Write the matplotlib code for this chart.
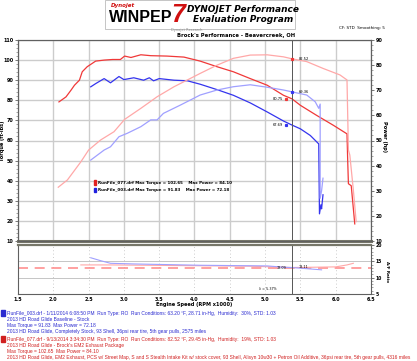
"""Dyno sheet: Road Glide baseline vs EM2 exhaust package (torque, power, A/F)."""

import matplotlib
matplotlib.use("Agg")
import matplotlib.pyplot as plt
from matplotlib.patches import Rectangle

# ---- data (rpm in x1000) ----
rpm_tq_077 = [2.08, 2.18, 2.25, 2.30, 2.37, 2.41, 2.48, 2.60, 2.72, 2.84, 2.95, 3.01,
              3.10, 3.24, 3.38, 3.61, 3.85, 4.08, 4.32, 4.55, 4.79, 5.03, 5.26, 5.38,
              5.50, 5.73, 5.97, 6.16, 6.17, 6.18, 6.22, 6.27]
tq_077 = [79.2, 81.7, 85.0, 87.5, 90.0, 94.2, 96.7, 99.5, 100.0, 100.3, 100.3, 102.0,
          101.3, 102.65, 102.2, 102.0, 101.5, 99.5, 96.7, 94.2, 90.8, 87.5, 82.5, 80.75,
          77.5, 72.5, 67.5, 63.3, 50.0, 38.5, 37.5, 18.5]

rpm_hp_077 = [2.07, 2.20, 2.39, 2.50, 2.67, 2.86, 3.01, 3.24, 3.47, 3.71, 3.99, 4.08,
              4.32, 4.55, 4.79, 5.03, 5.26, 5.38, 5.59, 5.82, 6.06, 6.16, 6.18, 6.20,
              6.25, 6.29]
hp_077 = [31.4, 34.3, 41.5, 46.2, 50.2, 53.5, 58.4, 62.8, 67.4, 71.4, 75.4, 76.7,
          80.0, 82.7, 84.0, 84.1, 83.3, 82.52, 81.4, 78.7, 76.1, 74.1, 46.2, 44.2,
          30.3, 17.7]

rpm_tq_003 = [2.53, 2.60, 2.72, 2.81, 2.93, 3.00, 3.14, 3.28, 3.36, 3.42, 3.50, 3.71,
              3.90, 4.08, 4.32, 4.55, 4.79, 5.03, 5.26, 5.38, 5.50, 5.64, 5.76, 5.77,
              5.79, 5.80, 5.82]
tq_003 = [86.7, 88.3, 90.8, 88.7, 91.83, 90.3, 91.2, 90.0, 91.2, 89.7, 90.8, 90.0,
          89.7, 88.0, 85.3, 82.5, 78.7, 74.2, 69.7, 67.69, 65.8, 62.5, 58.3, 23.5,
          28.0, 26.0, 33.0]

rpm_hp_003 = [2.53, 2.72, 2.81, 2.93, 3.05, 3.24, 3.38, 3.47, 3.56, 3.80, 3.99, 4.08,
              4.32, 4.55, 4.79, 5.03, 5.26, 5.38, 5.59, 5.71, 5.76, 5.78, 5.78, 5.80,
              5.82]
hp_003 = [42.2, 46.2, 47.5, 51.5, 52.9, 55.5, 58.2, 58.2, 60.8, 64.1, 66.8, 68.1,
          70.1, 71.4, 72.18, 71.2, 70.1, 69.36, 68.1, 65.4, 62.8, 64.5, 27.0, 30.0,
          35.0]

rpm_af_003 = [2.53, 2.67, 2.81, 3.14, 3.62, 4.08, 4.55, 5.03, 5.26, 5.38, 5.50, 5.80]
af_003 = [16.1, 15.2, 14.4, 14.2, 14.0, 13.8, 13.7, 13.6, 13.2, 13.09, 12.9, 12.4]

rpm_af_077 = [2.39, 2.80, 3.30, 3.80, 4.30, 4.80, 5.10, 5.38, 5.70, 6.00, 6.16, 6.25]
af_077 = [13.9, 13.9, 13.8, 13.7, 13.6, 13.5, 13.3, 13.11, 13.2, 13.3, 13.9, 14.4]

af_target = 13.1
cursor_rpm = 5.38

legend_lines = [
    ("RunFile_077.drf Max Torque = 102.65    Max Power = 84.10", "#e02020"),
    ("RunFile_003.drf Max Torque = 91.83    Max Power = 72.18", "#2020e0"),
]

run_info = [
    ("#2a2ad0", [
        "RunFile_003.drf - 1/11/2014 6:08:50 PM  Run Type: RO  Run Conditions: 63.20 \u00b0F, 28.71 in-Hg,  Humidity:  30%, STD: 1.03",
        "2013 HD Road Glide Baseline - Stock",
        "Max Torque = 91.83  Max Power = 72.18",
        "2013 HD Road Glide, Completely Stock, 93 Shell, 36psi rear tire, 5th gear pulls, 2575 miles",
    ]),
    ("#d02020", [
        "RunFile_077.drf - 9/13/2014 3:34:30 PM  Run Type: RO  Run Conditions: 82.52 \u00b0F, 29.45 in-Hg,  Humidity:  19%, STD: 1.03",
        "2013 HD Road Glide - Brock's EM2 Exhaust Package",
        "Max Torque = 102.65  Max Power = 84.10",
        "2013 HD Road Glide, EM2 Exhaust, PCS w/ Street Map, S and S Stealth Intake Kit w/ stock cover, 93 Shell, Alisyn 10w30 + Petron Oil Additive, 36psi rear tire, 5th gear pulls, 4316 miles",
    ]),
]

RED, PINK = "#f03838", "#ffa8a8"
BLUE, LBLUE = "#3434ee", "#a0a0ff"
GRID = "#cccccc"
SPINE = "#606060"

plt.rcParams["font.family"] = "DejaVu Sans"
plt.rcParams["font.size"] = 3.5

W, H = 417, 361
fig = plt.figure(figsize=(W / 100, H / 100), dpi=100)


def fx(px):
    return px / W


def fy(py):
    return 1 - py / H


# ---- header ----
fig.patches.append(Rectangle((fx(105), fy(29)), fx(190), 29 / H, transform=fig.transFigure,
                             facecolor="white", edgecolor="#bbbbbb", lw=0.6))
fig.text(fx(111), fy(6), "Dynojet", color="#d01010", fontsize=4, fontweight="bold",
         style="italic", va="center")
fig.text(fx(109), fy(18), "WINPEP", color="black", fontsize=11.5, fontweight="heavy",
         va="center", family="Liberation Sans")
fig.text(fx(171), fy(15.5), "7", color="#d01010", fontsize=18, fontweight="heavy",
         style="italic", va="center", family="Liberation Sans")
fig.text(fx(243), fy(10), "DYNOJET Performance", fontsize=6.5, fontweight="bold",
         style="italic", ha="center", va="center")
fig.text(fx(243), fy(20), "Evaluation Program", fontsize=6.5, fontweight="bold",
         style="italic", ha="center", va="center")
fig.text(fx(187), fy(30.5), "Dynojet Research", fontsize=2.5, color="#888888",
         ha="center", va="center")
fig.text(fx(385), fy(28.5), "CF: STD  Smoothing: 5", fontsize=3, ha="right", va="center")
fig.text(fx(236), fy(35), "Brock's Performance - Beavercreek, OH", fontsize=3.8,
         fontweight="bold", ha="center", va="center")

# ---- main panel ----
ax = fig.add_axes([fx(18), fy(241), fx(371 - 18), (241 - 40) / H])
ax2 = ax.twinx()

xticks = [1.5 + 0.5 * i for i in range(11)]
ax.set_xlim(1.5, 6.5)
ax.set_ylim(10, 110)
ax2.set_ylim(10, 90)
ax.set_xticks(xticks)
ax.set_yticks(range(10, 111, 10))
ax.set_yticks(range(10, 111, 2), minor=True)
ax2.set_yticks(range(10, 91, 10))
ax2.set_yticks(range(10, 91, 2), minor=True)
ax.grid(True, color=GRID, lw=1.0)
ax.tick_params(axis="x", length=0, labelbottom=False)
ax.tick_params(axis="y", which="major", length=2.2, width=0.6, color=SPINE, pad=1,
               labelsize=3.5)
ax.tick_params(axis="y", which="minor", length=1.2, width=0.4, color=SPINE)
ax2.tick_params(axis="y", which="major", length=2.2, width=0.6, color=SPINE, pad=1,
                labelsize=3.5)
ax2.tick_params(axis="y", which="minor", length=1.2, width=0.4, color=SPINE)
for lab in ax.get_yticklabels() + ax2.get_yticklabels():
    lab.set_fontweight("bold")
for a in (ax, ax2):
    for s in a.spines.values():
        s.set_color(SPINE)
        s.set_linewidth(0.8)
ax.spines["bottom"].set_linewidth(2.2)
ax.spines["bottom"].set_color("#77776a")
ax.set_ylabel("Torque (ft-lbs)", fontsize=3.6, fontweight="bold")
ax.yaxis.set_label_coords(-0.036, 0.5)
ax2.set_ylabel("Power (hp)", fontsize=3.6, fontweight="bold", rotation=270)
ax2.yaxis.set_label_coords(1.044, 0.52)

ax2.plot(rpm_hp_077, hp_077, color=PINK, lw=0.9)
ax2.plot(rpm_hp_003, hp_003, color=LBLUE, lw=0.9)
ax.plot(rpm_tq_077, tq_077, color=RED, lw=0.9)
ax.plot(rpm_tq_003, tq_003, color=BLUE, lw=0.9)
ax.axvline(cursor_rpm, color="#555555", lw=0.7)

# cursor read-outs
ax2.plot([cursor_rpm], [hp_077[rpm_hp_077.index(cursor_rpm)]], "s", color=RED, ms=1.3)
ax2.text(cursor_rpm + 0.09, hp_077[rpm_hp_077.index(cursor_rpm)], "82.52", fontsize=2.6,
         va="center")
ax2.plot([cursor_rpm], [hp_003[rpm_hp_003.index(cursor_rpm)]], "s", color=BLUE, ms=1.3)
ax2.text(cursor_rpm + 0.09, hp_003[rpm_hp_003.index(cursor_rpm)], "69.36", fontsize=2.6,
         va="center")
ax.plot([cursor_rpm - 0.08], [tq_077[rpm_tq_077.index(cursor_rpm)]], "s", color=RED, ms=1.3)
ax.text(cursor_rpm - 0.12, tq_077[rpm_tq_077.index(cursor_rpm)], "80.75", fontsize=2.6,
        va="center", ha="right")
ax.plot([cursor_rpm - 0.08], [tq_003[rpm_tq_003.index(cursor_rpm)]], "s", color=BLUE, ms=1.3)
ax.text(cursor_rpm - 0.12, tq_003[rpm_tq_003.index(cursor_rpm)], "67.69", fontsize=2.6,
        va="center", ha="right")

# in-plot legend
for i, (txt, col) in enumerate(legend_lines):
    yy = 39.0 - i * 3.6
    ax.add_patch(Rectangle((2.57, yy - 1.2), 0.04, 2.4, color=col, zorder=5))
    ax.text(2.64, yy, txt, fontsize=2.9, fontweight="bold", va="center", zorder=5)

# ---- A/F panel ----
axf = fig.add_axes([fx(18), fy(294), fx(371 - 18), (294 - 245) / H])
axf.set_xlim(1.5, 6.5)
axf.set_ylim(5, 20)
axf.set_xticks(xticks)
axf.set_xticklabels([f"{v:.1f}" for v in xticks], fontweight="bold")
axf.tick_params(axis="x", length=0, pad=2, labelsize=3.5)
axf.set_yticks([])
axf.grid(True, axis="x", color="#bbbbbb", lw=0.6, ls=(0, (1, 3)))
for v in (10, 15):
    axf.axhline(v, color="#bbbbbb", lw=0.6)
for s in axf.spines.values():
    s.set_color(SPINE)
    s.set_linewidth(0.8)
axf.spines["top"].set_linewidth(1.6)
axf.spines["top"].set_color("#77776a")
axf2 = axf.twinx()
axf2.set_ylim(5, 20)
axf2.set_yticks([5, 10, 15, 20])
axf2.set_yticks(range(5, 21), minor=True)
axf2.tick_params(axis="y", which="major", length=2.2, width=0.6, color=SPINE, pad=1,
                 labelsize=3.3)
axf2.tick_params(axis="y", which="minor", length=1.2, width=0.4, color=SPINE)
for lab in axf2.get_yticklabels():
    lab.set_fontweight("bold")
for s in axf2.spines.values():
    s.set_visible(False)
axf2.set_ylabel("A/F Ratio", fontsize=3.0, fontweight="bold", rotation=270)
axf2.yaxis.set_label_coords(1.05, 0.45)

axf.axhline(af_target, color="#ff9090", lw=1.2, ls=(0, (6, 4)))
axf.plot(rpm_af_077, af_077, color=PINK, lw=0.8)
axf.plot(rpm_af_003, af_003, color=LBLUE, lw=0.8)
axf.axvline(cursor_rpm, color="#555555", lw=0.7)
axf.text(cursor_rpm - 0.08, af_target - 0.2, "13.09", fontsize=2.4, ha="right", va="center")
axf.text(cursor_rpm + 0.09, af_target + 0.2, "13.11", fontsize=2.4, va="center")
axf.text(cursor_rpm - 0.22, 6.5, "\u03bb = 5.37%", fontsize=2.4, ha="right", va="center")
axf.set_xlabel("Engine Speed (RPM x1000)", fontsize=3.6, fontweight="bold", labelpad=0.5)

# ---- run notes ----
y0 = 313
for col, lines in run_info:
    fig.patches.append(Rectangle((fx(1), fy(y0 + 3)), fx(4), 6 / H,
                                 transform=fig.transFigure, color=col))
    for j, line in enumerate(lines):
        fig.text(fx(7), fy(y0 + j * 6.1), line, color=col, fontsize=3.55,
                 family="Liberation Sans", va="center")
    y0 += 26

fig.savefig("out.png", dpi=100)
